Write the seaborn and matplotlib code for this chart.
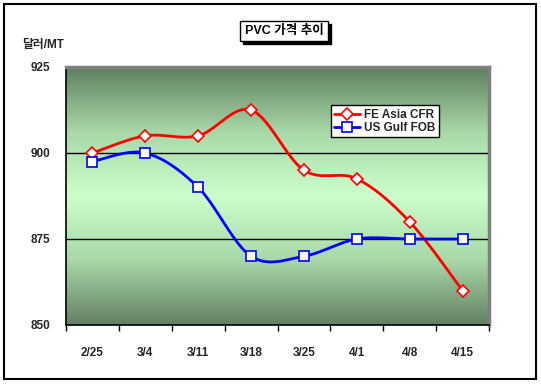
import numpy as np
import pandas as pd
import matplotlib.pyplot as plt
from matplotlib.colors import LinearSegmentedColormap
from matplotlib.lines import Line2D
from matplotlib.patches import Rectangle
import seaborn as sns

# Data
dates = ["2/25", "3/4", "3/11", "3/18", "3/25", "4/1", "4/8", "4/15"]
fe_asia_cfr = [900, 905, 905, 912.5, 895, 892.5, 880, 860]
us_gulf_fob = [897.5, 900, 890, 870, 870, 875, 875, 875]
y_ticks = [850, 875, 900, 925]

sns.set_style("white")
plt.rcParams["font.family"] = ["Liberation Sans", "Noto Sans CJK KR"]
plt.rcParams["font.weight"] = "bold"


def smooth(xs, ys, steps=24):
    # Bezier smoothing like the spreadsheet "smoothed line" option
    xs = np.asarray(xs, float)
    ys = np.asarray(ys, float)
    px = np.concatenate([[xs[0]], xs, [xs[-1]]])
    py = np.concatenate([[ys[0]], ys, [ys[-1]]])
    out_x, out_y = [], []
    t = np.linspace(0, 1, steps)
    for i in range(1, len(px) - 2):
        p0 = np.array([px[i], py[i]])
        p3 = np.array([px[i + 1], py[i + 1]])
        c1 = p0 + (np.array([px[i + 1], py[i + 1]]) - np.array([px[i - 1], py[i - 1]])) / 6
        c2 = p3 - (np.array([px[i + 2], py[i + 2]]) - np.array([px[i], py[i]])) / 6
        pts = ((1 - t) ** 3)[:, None] * p0 + (3 * (1 - t) ** 2 * t)[:, None] * c1 \
            + (3 * (1 - t) * t ** 2)[:, None] * c2 + (t ** 3)[:, None] * p3
        out_x.extend(pts[:, 0])
        out_y.extend(pts[:, 1])
    return np.array(out_x), np.array(out_y)


fig = plt.figure(figsize=(5.41, 3.87), dpi=100)
ax = fig.add_axes([66 / 541, 62 / 387, 423 / 541, 258 / 387])

x = np.arange(len(dates))

# gradient plot area background
cmap = LinearSegmentedColormap.from_list(
    "bg", ["#5f7f5f", "#a8d8a8", "#ccffcc", "#a8d8a8", "#647f64"])
grad = np.linspace(0, 1, 256)[:, None]
ax.imshow(grad, cmap=cmap, aspect="auto", extent=[-0.5, 7.5, 850, 925],
          origin="upper", zorder=0)

for yv in [875, 900]:
    ax.axhline(yv, color="black", lw=1, zorder=1)

series = [("FE Asia CFR", fe_asia_cfr, "#ff0000", "D", 6),
          ("US Gulf FOB", us_gulf_fob, "#0000ff", "s", 7)]
handles = []
for name, vals, col, mk, ms in series:
    sx, sy = smooth(x, vals)
    sns.lineplot(x=sx, y=sy, sort=False, estimator=None, color=col, lw=2,
                 ax=ax, zorder=3)
    df = pd.DataFrame({"x": x, "y": vals})
    ax.plot(df["x"], df["y"], ls="none", marker=mk, ms=ms, mfc="white",
            mec=col, mew=1.2, zorder=4)
    handles.append(Line2D([], [], color=col, lw=2, marker=mk, ms=ms,
                          mfc="white", mec=col, mew=1.2))

ax.set_xlim(-0.5, 7.5)
ax.set_ylim(850, 925)
ax.set_yticks(y_ticks)
ax.set_yticklabels([str(v) for v in y_ticks], fontsize=8.5, fontweight="bold")
ax.set_xticks(np.arange(-0.5, 8, 1))
ax.set_xticklabels([])
ax.set_xticks(x, minor=True)
ax.set_xticklabels(dates, minor=True, fontsize=8.5, fontweight="bold")
ax.tick_params(axis="x", which="major", direction="out", length=4, width=1,
               color="black", bottom=True)
ax.tick_params(axis="x", which="minor", length=0, pad=16)
ax.tick_params(axis="y", length=0, pad=11)
ax.set_xlabel("")
ax.set_ylabel("")

for side in ["left", "bottom"]:
    ax.spines[side].set_color("black")
    ax.spines[side].set_linewidth(1.2)
for side in ["top", "right"]:
    ax.spines[side].set_color("#808080")
    ax.spines[side].set_linewidth(2.5)

leg = ax.legend(handles, [s[0] for s in series], loc="upper left",
                bbox_to_anchor=(0.612, 0.875), frameon=True, fancybox=False,
                framealpha=1, edgecolor="black", handlelength=2.2,
                handletextpad=0.3, borderpad=0.3, labelspacing=0.1,
                prop={"size": 8.5, "weight": "bold"})
leg.get_frame().set_linewidth(1)

# title box, shadow drawn as a rectangle behind it
title = fig.text(284 / 541, 1 - 31 / 387, "PVC 가격 추이", ha="center",
                 va="center", fontsize=9, fontweight="bold", color="black",
                 zorder=5,
                 bbox=dict(boxstyle="square,pad=0.35", fc="white", ec="black", lw=1))
fig.canvas.draw()
bb = title.get_bbox_patch().get_window_extent()
fig.patches.append(Rectangle(((bb.x0 + 3) / 541, (bb.y0 - 3) / 387),
                             bb.width / 541, bb.height / 387,
                             transform=fig.transFigure, fc="black", ec="black",
                             zorder=4))

fig.text(22 / 541, 1 - 45 / 387, "달러/MT", ha="left", va="center",
         fontsize=8.5, fontweight="bold")

fig.patches.append(Rectangle((4 / 541, 8 / 387), 532 / 541, 375 / 387,
                             transform=fig.transFigure, fill=False,
                             ec="black", lw=1.5))

fig.savefig("out.png", dpi=100)
